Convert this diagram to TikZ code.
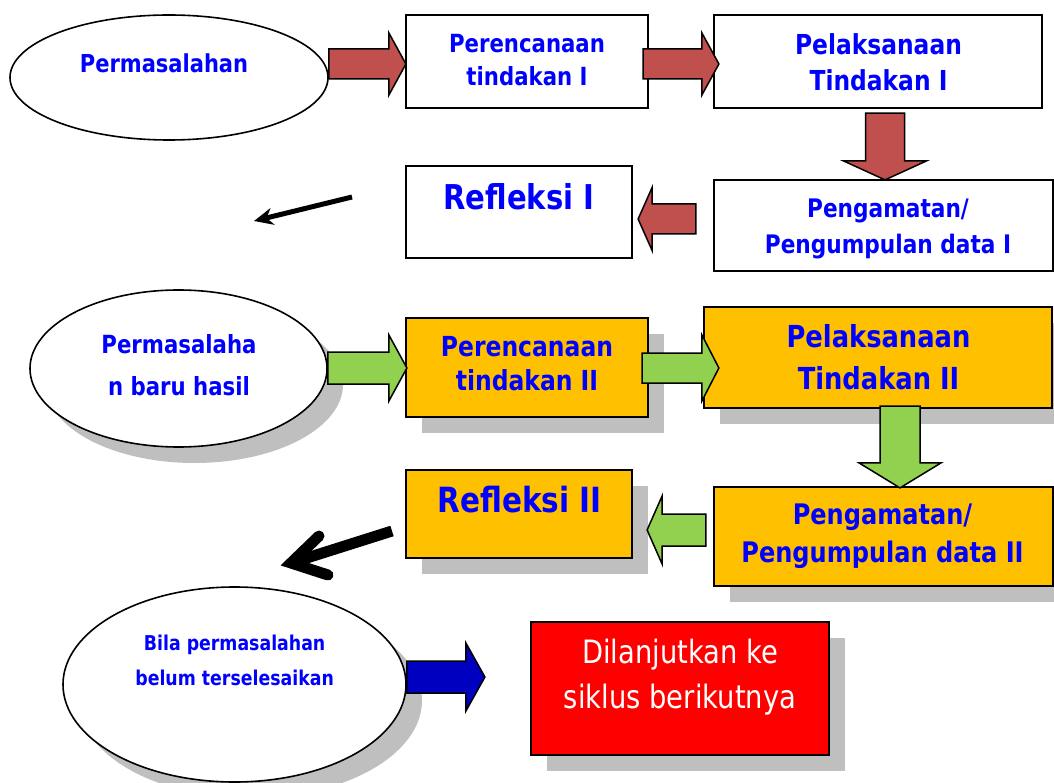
\documentclass[tikz,border=0pt]{standalone}
\usepackage{fontspec}
\setmainfont{DejaVu Sans}[FakeStretch=0.85]
\usepackage{xcolor}
\usepackage{tikz}
\usetikzlibrary{shapes,arrows.meta,positioning,calc,shadows}

\definecolor{arrowred}{RGB}{192,80,77}
\definecolor{arrowgreen}{RGB}{146,208,80}
\definecolor{arrowblue}{RGB}{0,0,192}
\definecolor{boxorange}{RGB}{255,192,0}
\definecolor{txtblue}{RGB}{0,0,255}
\definecolor{shadowgray}{RGB}{191,191,191}

\newcommand{\fsz}[2]{\fontsize{#1}{#2}\selectfont}
\newcommand{\twoline}[2]{\begin{tabular}[t]{@{}c@{}}#1\\#2\end{tabular}}

% block arrow, left or right: colour, start, tip, half shaft, half head, head length
\newcommand{\blockside}[6]{%
    \filldraw[blockline,fill=#1] let \p1=#2, \p2=#3 in
        (\x1,\y2+#4) -- (\x2-#6,\y2+#4) -- (\x2-#6,\y2+#5) -- (\x2,\y2)
        -- (\x2-#6,\y2-#5) -- (\x2-#6,\y2-#4) -- (\x1,\y2-#4) -- cycle;}
% block arrow pointing down
\newcommand{\blockdown}[6]{%
    \filldraw[blockline,fill=#1] let \p1=#2, \p2=#3 in
        (\x2+#4,\y1) -- (\x2+#4,\y2+#6) -- (\x2+#5,\y2+#6) -- (\x2,\y2)
        -- (\x2-#5,\y2+#6) -- (\x2-#4,\y2+#6) -- (\x2-#4,\y1) -- cycle;}

\begin{document}
\begin{tikzpicture}[
        x=1pt, y=-1pt,
        box/.style={
            draw,
            line width=2.2pt,
            rectangle,
            inner sep=0pt
            },
        ell/.style={
            draw,
            line width=1.6pt,
            ellipse,
            fill=white,
            inner sep=0pt
            },
        shadowed/.style={
            drop shadow={shadow xshift=16pt, shadow yshift=-16pt,
                fill=shadowgray, opacity=1}
            },
        lbl/.style={
            text=txtblue,
            inner sep=0pt,
            anchor=base
            },
        blockline/.style={
            line width=1.5pt,
            line join=miter
            }
    ]
    \useasboundingbox (0,0) rectangle (1054,783);

    % first cycle
    \node[ell, minimum width=318, minimum height=125] (e1) at (169,77.5) {};
    \node[box, fill=white, minimum width=242, minimum height=93] (b1) at (527,61.5) {};
    \node[box, fill=white, minimum width=328, minimum height=93] (b2) at (878,61.5) {};
    \node[box, fill=white, minimum width=339, minimum height=91] (b3) at (883.5,225.5) {};
    \node[box, fill=white, minimum width=226, minimum height=92] (b4) at (519,212) {};

    \node[lbl, font={\bfseries\fsz{24.7}{30}}] (t1) at (164,73) {Permasalahan};
    \node[lbl, font={\bfseries\fsz{25}{33}}] (tb1) at (527,53) {\twoline{Perencanaan}{tindakan I}};
    \node[lbl, font={\bfseries\fsz{27.5}{36}}] (tb2) at (878.5,54.5) {\twoline{Pelaksanaan}{Tindakan I}};
    \node[lbl, font={\bfseries\fsz{25.5}{36}}] (tb3) at (888,218) {\twoline{Pengamatan/}{Pengumpulan data I}};
    \node[lbl, font={\bfseries\fsz{34.2}{40}}] (tb4) at (519,210) {Refleksi I};

    % second cycle
    \node[ell, shadowed, minimum width=297, minimum height=157] (e2) at (178.5,368.5) {};
    \node[box, shadowed, fill=boxorange, minimum width=242, minimum height=99] (b5) at (527,367.5) {};
    \node[box, shadowed, fill=boxorange, minimum width=348, minimum height=101] (b6) at (878,357.5) {};
    \node[box, shadowed, fill=boxorange, minimum width=339, minimum height=99] (b7) at (883.5,536.5) {};
    \node[box, shadowed, fill=boxorange, minimum width=226, minimum height=88] (b8) at (519,514) {};

    \node[lbl, font={\bfseries\fsz{25}{42}}] (te2) at (179,353.3) {\twoline{Permasalaha}{n baru hasil}};
    \node[lbl, font={\bfseries\fsz{27.6}{34}}] (tb5) at (527,356) {\twoline{Perencanaan}{tindakan II}};
    \node[lbl, font={\bfseries\fsz{30.3}{42}}] (tb6) at (878.5,348) {\twoline{Pelaksanaan}{Tindakan II}};
    \node[lbl, font={\bfseries\fsz{28.3}{38}}] (tb7) at (882.5,524) {\twoline{Pengamatan/}{Pengumpulan data II}};
    \node[lbl, font={\bfseries\fsz{34.7}{40}}] (tb8) at (519.5,512) {Refleksi II};

    % next cycle
    \node[ell, shadowed, minimum width=343, minimum height=195] (e3) at (234.5,684.5) {};
    \node[box, shadowed, fill=red, minimum width=298, minimum height=133] (b9) at (680,688.5) {};

    \node[lbl, font={\bfseries\fsz{20.4}{35}}] (te3) at (234.6,650) {\twoline{Bila permasalahan}{belum terselesaikan}};
    \node[lbl, text=white, font={\fsz{32.2}{45}}] (tb9) at (680,663.3) {\twoline{Dilanjutkan ke}{siklus berikutnya}};

    % block arrows
    \blockside{arrowred}{(e1.east)}{($(b1.west)+(1,2.5)$)}{15pt}{31pt}{17pt}
    \blockside{arrowred}{($(b1.east)+(-6,0)$)}{($(b2.west)+(6,2.5)$)}{15pt}{31pt}{17pt}
    \blockdown{arrowred}{($(b2.south)+(0,4)$)}{($(b3.north)+(1.5,1)$)}{19.5pt}{41.5pt}{19pt}
    \blockside{arrowred}{($(b3.west)+(-17,0)$)}{($(b4.east)+(5,7)$)}{15pt}{31.5pt}{-14pt}

    \blockside{arrowgreen}{(e2.east)}{($(b5.west)+(2,0.5)$)}{16pt}{33pt}{18pt}
    \blockside{arrowgreen}{($(b5.east)+(-7,0)$)}{($(b6.west)+(16,10.5)$)}{15pt}{33pt}{17pt}
    \blockdown{arrowgreen}{($(b6.south)+(0,-3)$)}{($(b7.north)+(16.5,2)$)}{20pt}{41pt}{25pt}
    \blockside{arrowgreen}{($(b7.west)+(-7,0)$)}{($(b8.east)+(14,16)$)}{16pt}{34pt}{-15pt}

    \blockside{arrowblue}{(e3.east)}{($(b9.west)+(-45,-11.5)$)}{16pt}{34pt}{19pt}

    % black arrows
    \coordinate (k1from) at (352,197);
    \coordinate (k1to) at (254,221);
    \draw[line width=5pt, -{Stealth[length=19pt,width=17pt]}] (k1from) -- (k1to);

    \coordinate (k2from) at (392,531);
    \coordinate (k2tip) at (291,563);
    \draw[line width=11pt] (k2from) -- (k2tip);
    \draw[line width=11pt, line cap=round, line join=miter]
        ($(k2tip)+(28,-27)$) -- (k2tip) -- ($(k2tip)+(37,12)$);

\end{tikzpicture}
\end{document}
